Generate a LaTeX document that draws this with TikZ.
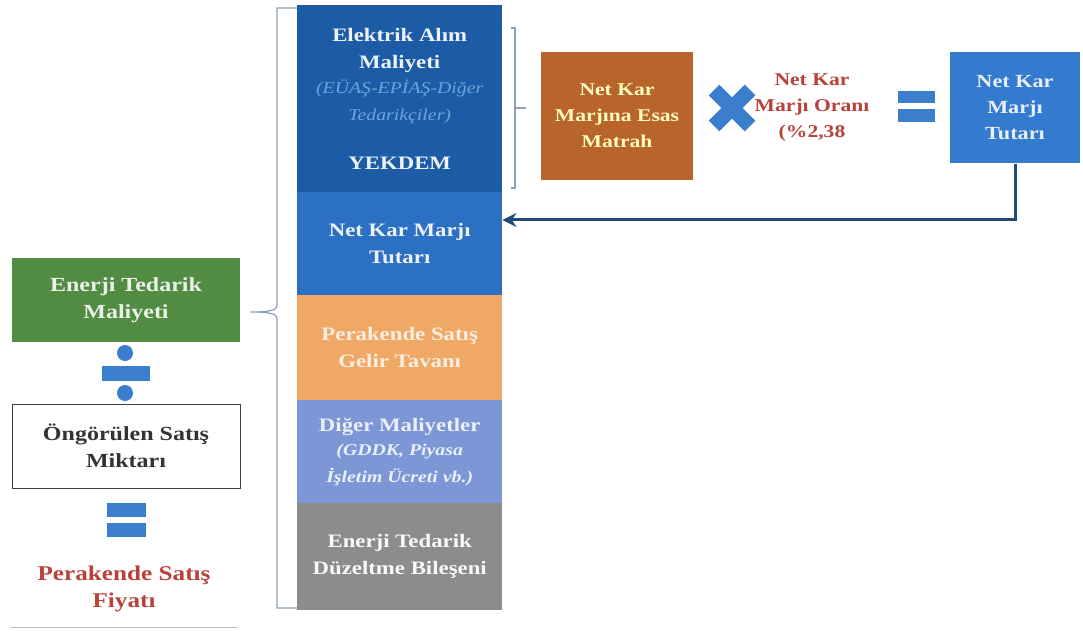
\documentclass[tikz,border=0pt]{standalone}
\usepackage{fontspec}
\setmainfont{Liberation Serif}[FakeStretch=1.2]
\usetikzlibrary{arrows.meta,calc}

\definecolor{koyumavi}{RGB}{28,92,166}
\definecolor{mavi}{RGB}{44,112,196}
\definecolor{acikmavi}{RGB}{52,122,206}
\definecolor{turuncu}{RGB}{240,168,102}
\definecolor{lila}{RGB}{124,150,214}
\definecolor{gri}{RGB}{140,140,140}
\definecolor{yesil}{RGB}{82,140,66}
\definecolor{kahve}{RGB}{184,100,42}
\definecolor{isaret}{RGB}{60,126,206}
\definecolor{kirmizi}{RGB}{184,66,58}
\definecolor{lacivert}{RGB}{34,74,114}
\definecolor{ayrac}{RGB}{140,160,182}

\newcommand{\altsatir}{\mdseries\itshape\fontsize{16.5}{25}\selectfont}

\tikzset{
  colbox/.style={anchor=north west,minimum width=205pt,inner sep=0pt,align=center,
    font=\bfseries\fontsize{19}{27}\selectfont},
  sidebox/.style={minimum width=228pt,minimum height=84pt,inner sep=0pt,align=center,
    font=\bfseries\fontsize{20}{27}\selectfont},
  opsign/.style={fill=isaret},
}

\begin{document}
\begin{tikzpicture}[x=1pt,y=-1pt]
    \useasboundingbox (0,0) rectangle (1083,636);
    % maliyet kalemleri
    \node[colbox,fill=koyumavi,minimum height=187pt,text=white!92!koyumavi] (elektrik) at (297,5)
        {Elektrik Alım\\Maliyeti\\[-2pt]
         \altsatir\color{acikmavi!70!white}(EÜAŞ-EPİAŞ-Diğer\\
         \altsatir\color{acikmavi!70!white}Tedarikçiler)\\[22pt]
         YEKDEM};
    \node[colbox,fill=mavi,minimum height=103pt,text=white!90!mavi] (netkar) at (297,192)
        {Net Kar Marjı\\Tutarı};
    \node[colbox,fill=turuncu,minimum height=105pt,text=white!80!turuncu] (tavan) at (297,295)
        {Perakende Satış\\Gelir Tavanı};
    \node[colbox,fill=lila,minimum height=103pt,text=white!85!lila] (diger) at (297,400)
        {Diğer Maliyetler\\[-3pt]
         \altsatir\bfseries (GDDK, Piyasa\\
         \altsatir\bfseries İşletim Ücreti vb.)};
    \node[colbox,fill=gri,minimum height=107pt,text=white!95!gri] (duzeltme) at (297,503)
        {Enerji Tedarik\\Düzeltme Bileşeni};
    % sol taraf
    \node[sidebox,fill=yesil,text=white!88!yesil] (enerji) at (126,300) {Enerji Tedarik\\Maliyeti};
    \node[sidebox,draw=black!75,line width=0.8pt,text=black!80] (ongorulen) at (126,446) {Öngörülen Satış\\Miktarı};
    \node[sidebox,text=kirmizi,font=\bfseries\fontsize{21}{27}\selectfont] (fiyat) at (124,589) {Perakende Satış\\Fiyatı};
    \draw[black!25,line width=1.2pt] ($(fiyat.south west)+(0,-4)$) -- ($(fiyat.south east)+(0,-4)$);
    \fill[opsign] (125,353) circle (8);
    \fill[opsign] (125,393) circle (8);
    \fill[opsign] (102,366) rectangle (150,381);
    \fill[opsign] (107,503) rectangle (146,517);
    \fill[opsign] (107,523) rectangle (146,537);
    % ayraclar
    \draw[ayrac,line width=1.2pt] (297,8) -- (277,8) -- (277,305)
        .. controls (277,310) and (272,312) .. (250,312)
        .. controls (272,312) and (277,314) .. (277,319) -- (277,608) -- (297,608);
    \draw[ayrac,line width=1.2pt] (511,28) -- (515,28) -- (515,188) -- (511,188);
    \draw[ayrac,line width=1.2pt] (515,108) -- (526,108);
    % net kar marji hesabi
    \node[fill=kahve,minimum width=152pt,minimum height=128pt,inner sep=0pt,align=center,
        text=yellow!25!white,font=\bfseries\fontsize{18}{26}\selectfont] (matrah) at (617,116)
        {Net Kar\\Marjına Esas\\Matrah};
    \draw[isaret,line width=15pt] (714,90) -- (750,126);
    \draw[isaret,line width=15pt] (714,126) -- (750,90);
    \node[align=center,inner sep=0pt,text=kirmizi,font=\bfseries\fontsize{18}{26}\selectfont] (oran) at (812,108)
        {Net Kar\\Marjı Oranı\\(\%2,38};
    \fill[opsign] (898,91) rectangle (935,103);
    \fill[opsign] (898,109) rectangle (935,122);
    \node[fill=acikmavi,minimum width=130pt,minimum height=111pt,inner sep=0pt,align=center,
        text=white!88!acikmavi,font=\bfseries\fontsize{18.5}{26}\selectfont] (tutar) at (1015,108)
        {Net Kar\\Marjı\\Tutarı};
    \draw[lacivert,line width=3pt,-{Stealth[length=14pt,width=14pt]}] (tutar.south) |- ([yshift=-28pt]netkar.north east);
\end{tikzpicture}
\end{document}
